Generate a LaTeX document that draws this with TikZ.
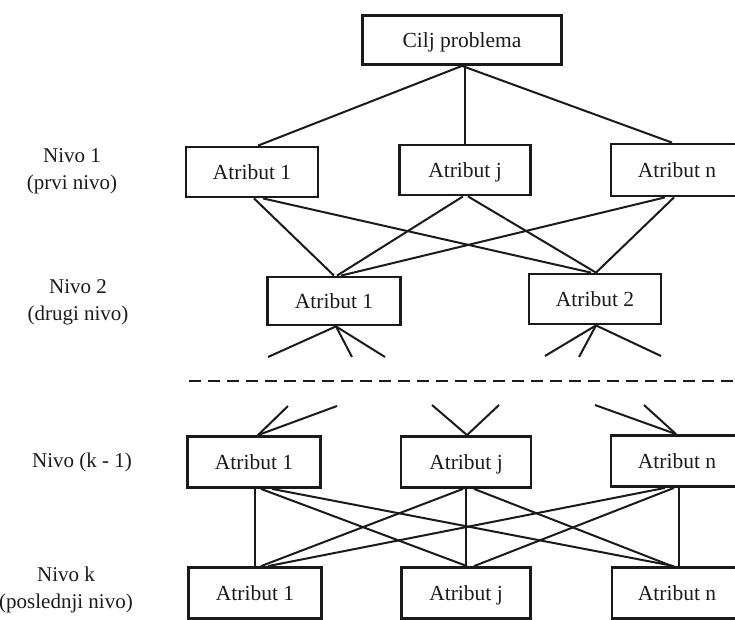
\documentclass[tikz,border=0pt]{standalone}
\usepackage{fontspec}
\setmainfont{Liberation Serif}
\usetikzlibrary{calc}

\definecolor{ink}{HTML}{1A1A1A}
\tikzset{
  attr/.style={draw=ink, line width=2.8pt, inner sep=0pt, minimum height=50pt,
               minimum width=132pt, text height=15pt, text depth=1pt,
               font=\fontsize{21.5}{25}\selectfont},
  link/.style={draw=ink, line width=2pt},
  levelname/.style={align=center, font=\fontsize{21}{27}\selectfont, inner sep=0pt},
  divider/.style={draw=ink, line width=2.8pt, dash pattern=on 12pt off 7pt}
}

\begin{document}
\begin{tikzpicture}[x=1pt, y=-1pt, text=ink]
\useasboundingbox (0,0) rectangle (735,619);
\begin{scope}
\clip (0,0) rectangle (735,619);

% goal
\node[attr, minimum width=199pt, minimum height=49pt] (goal) at (462,40) {Cilj problema};

% level 1
\node[attr] (a1) at (252,172) {Atribut 1};
\node[attr, minimum width=131pt] (aj) at (465,170) {Atribut j};
\node[attr, minimum height=52pt] (an) at (677,170) {Atribut n};

% level 2
\node[attr, minimum width=133pt, minimum height=48pt] (b1) at (334,301) {Atribut 1};
\node[attr] (b2) at (595,299) {Atribut 2};

% level k-1
\node[attr, minimum width=133pt, minimum height=51pt] (c1) at (254,462) {Atribut 1};
\node[attr, minimum width=130pt, minimum height=51pt] (cj) at (466,462) {Atribut j};
\node[attr, minimum height=51pt] (cn) at (677,461) {Atribut n};

% level k
\node[attr, minimum width=133pt, minimum height=51pt] (d1) at (255,593) {Atribut 1};
\node[attr, minimum width=129pt, minimum height=51pt] (dj) at (466,593) {Atribut j};
\node[attr, minimum width=130pt, minimum height=51pt] (dn) at (677,593) {Atribut n};

% level names
\node[levelname] (n1) at (72,171) {Nivo 1\\(prvi nivo)};
\node[levelname] (n2) at (78,302) {Nivo 2\\(drugi nivo)};
\node[levelname] (nk1) at (82,462) {Nivo (k - 1)};
\node[levelname] (nk) at (66,590) {Nivo k\\(poslednji nivo)};

% goal to level 1
\draw[link] (goal.south) -- ([xshift=6pt]a1.north);
\draw[link] (aj.north |- goal.south) -- (aj.north);
\draw[link] (goal.south) -- ([xshift=-5pt]an.north);

% level 1 to level 2
\draw[link] ([xshift=2pt]a1.south) -- (b1.north);
\draw[link] ([xshift=11pt]a1.south) -- ([xshift=-4pt]b2.north);
\draw[link] ([xshift=-2pt]aj.south) -- ([xshift=3pt]b1.north);
\draw[link] ([xshift=3pt]aj.south) -- ([xshift=1pt]b2.north);
\draw[link] ([xshift=-12pt]an.south) -- ([xshift=7pt]b1.north);
\draw[link] ([xshift=-3pt]an.south) -- ([xshift=1pt]b2.north);

% open branches below level 2
\coordinate (s1) at (268,357);
\coordinate (s2) at (352,357);
\coordinate (s3) at (385,357);
\coordinate (s4) at (545,356);
\coordinate (s5) at (579,357);
\coordinate (s6) at (661,356);
\draw[link] ([xshift=2pt]b1.south) -- (s1);
\draw[link] ([xshift=2pt]b1.south) -- (s2);
\draw[link] ([xshift=2pt]b1.south) -- (s3);
\draw[link] ([xshift=1pt]b2.south) -- (s4);
\draw[link] ([xshift=1pt]b2.south) -- (s5);
\draw[link] ([xshift=1pt]b2.south) -- (s6);

% omitted levels
\coordinate (gapL) at (189,381);
\coordinate (gapR) at (736,381);
\draw[divider] (gapL) -- (gapR);

% open branches above level k-1
\coordinate (t1) at (288,406);
\coordinate (t2) at (337,406);
\coordinate (t3) at (432,405);
\coordinate (t4) at (499,405);
\coordinate (t5) at (595,405);
\coordinate (t6) at (644,405);
\draw[link] ([xshift=4pt]c1.north) -- (t1);
\draw[link] ([xshift=4pt]c1.north) -- (t2);
\draw[link] ([xshift=1pt]cj.north) -- (t3);
\draw[link] ([xshift=1pt]cj.north) -- (t4);
\draw[link] ([xshift=-1pt]cn.north) -- (t5);
\draw[link] ([xshift=-1pt]cn.north) -- (t6);

% level k-1 to level k
\draw[link] (d1.north |- c1.south) -- (d1.north);
\draw[link] ([xshift=7pt]c1.south) -- ([xshift=1pt]dj.north);
\draw[link] ([xshift=18pt]c1.south) -- ([xshift=-3pt]dn.north);
\draw[link] ([xshift=-3pt]cj.south) -- ([xshift=6pt]d1.north);
\draw[link] (dj.north |- cj.south) -- (dj.north);
\draw[link] ([xshift=8pt]cj.south) -- ([xshift=-5pt]dn.north);
\draw[link] ([xshift=-12pt]cn.south) -- ([xshift=13pt]d1.north);
\draw[link] ([xshift=-3pt]cn.south) -- ([xshift=8pt]dj.north);
\draw[link] ([xshift=2pt]dn.north |- cn.south) -- ([xshift=2pt]dn.north);
\end{scope}
\end{tikzpicture}
\end{document}
